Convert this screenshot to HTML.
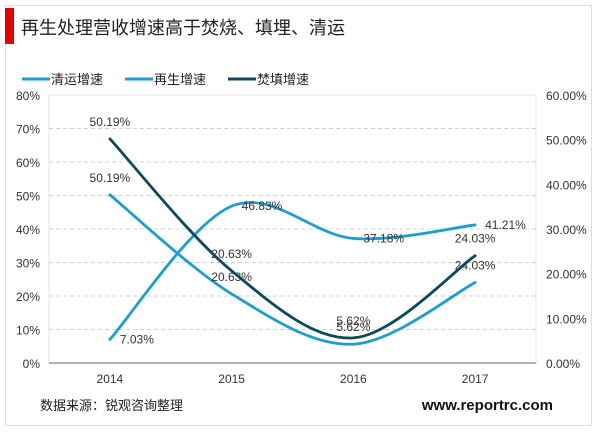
<!DOCTYPE html>
<html><head><meta charset="utf-8">
<style>
body{margin:0;background:#fff;}
#card{position:absolute;left:5px;top:5px;width:587px;height:421px;border:1px solid #ddd;box-sizing:border-box;background:#fff;}
text{font-family:"Liberation Sans","Noto Sans CJK SC",sans-serif;}
</style></head>
<body>
<div id="card"></div>
<svg id="svg" width="600" height="433" style="position:absolute;left:0;top:0">
<rect x="5" y="8" width="9" height="36" fill="#e60000"/>
<text x="21" y="34" font-size="18" fill="#222">再生处理营收增速高于焚烧、填埋、清运</text>
<g>
<g><line x1="22" y1="79" x2="50" y2="79" stroke="#1a9fd0" stroke-width="3"/><text x="51" y="84" font-size="13" fill="#222">清运增速</text></g>
<g><line x1="125" y1="79" x2="153" y2="79" stroke="#1a9fd0" stroke-width="3"/><text x="154" y="84" font-size="13" fill="#222">再生增速</text></g>
<g><line x1="228" y1="79" x2="256" y2="79" stroke="#0b4a5c" stroke-width="3"/><text x="257" y="84" font-size="13" fill="#222">焚填增速</text></g>
</g>
<g id="plot"></g>
<text x="40" y="410" font-size="13" fill="#222">数据来源：锐观咨询整理</text>
<text x="553" y="410" font-size="15" font-weight="bold" fill="#111" text-anchor="end">www.reportrc.com</text>
</svg>
<script>
const categories=["2014","2015","2016","2017"];
const qingyun=[50.19,20.63,5.62,24.03];
const zaisheng=[7.03,46.83,37.18,41.21];
const fentian=[50.19,20.63,5.62,24.03];
const leftTicks=[0,10,20,30,40,50,60,70,80];
const rightTicks=[0,10,20,30,40,50,60];

const L=49,R=536,T=95,B=363;
const ns="http://www.w3.org/2000/svg";
const g=document.getElementById('plot');
const xs=i=>L+(R-L)/categories.length*(i+0.5);
const yl=v=>B-(v/80)*(B-T);
const yr=v=>B-(v/60)*(B-T);
function el(t,a){const e=document.createElementNS(ns,t);for(const k in a)e.setAttribute(k,a[k]);g.appendChild(e);return e;}
const frame=el('rect',{x:L,y:T,width:R-L,height:B-T,fill:'none',stroke:'#e3e3e3'});


leftTicks.forEach(v=>{
  if(v>0&&v<80){const ln=el('line',{x1:L,x2:R,y1:yl(v),y2:yl(v),stroke:'#d0d0d0','stroke-dasharray':'4,3'});
  
  }
  const t=el('text',{x:40,y:yl(v)+5,'font-size':12,fill:'#333','text-anchor':'end'});t.textContent=v+'%';
  
  
});
rightTicks.forEach(v=>{
  const t=el('text',{x:546,y:yr(v)+5,'font-size':12,fill:'#333'});t.textContent=v.toFixed(2)+'%';
  
  
});
const ax=el('line',{x1:L,x2:R,y1:B,y2:B,stroke:'#999','stroke-width':1.5});


categories.forEach((c,i)=>{
  const t=el('text',{x:xs(i),y:B+20,'font-size':12,fill:'#333','text-anchor':'middle'});t.textContent=c;
  
  
});
function smooth(p){
  let d='M'+p[0][0]+','+p[0][1];
  for(let i=0;i<p.length-1;i++){
    const p0=p[i-1]||p[i],p1=p[i],p2=p[i+1],p3=p[i+2]||p[i+1];
    const c1=[p1[0]+(p2[0]-p0[0])/6,p1[1]+(p2[1]-p0[1])/6];
    const c2=[p2[0]-(p3[0]-p1[0])/6,p2[1]-(p3[1]-p1[1])/6];
    d+=' C'+c1+' '+c2+' '+p2;
  }
  return d;
}
function series(vals,yf,color,name,pos){
  const pts=vals.map((v,i)=>[xs(i),yf(v)]);
  const p=el('path',{d:smooth(pts),fill:'none',stroke:color,'stroke-width':2.8,'stroke-linecap':'round'});
  
  
  vals.forEach((v,i)=>{
    const t=pos==='right'?el('text',{x:pts[i][0]+10,y:pts[i][1]+4,'font-size':12,fill:'#333'})
                         :el('text',{x:pts[i][0],y:pts[i][1]-13,'font-size':12,fill:'#333','text-anchor':'middle'});
    t.textContent=v.toFixed(2)+'%';
    
    
  });
}
series(zaisheng,yl,'#1a9fd0','zaisheng','right');
series(qingyun,yl,'#1a9fd0','qingyun','above');
series(fentian,yr,'#0b4a5c','fentian','above');
</script>
</body></html>
